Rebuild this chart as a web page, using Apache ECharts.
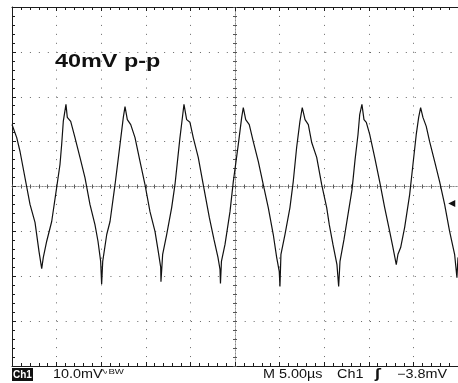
<!DOCTYPE html>
<html>
<head>
<meta charset="utf-8">
<title>Ch1 ripple 40mV p-p</title>
<script src="https://cdn.jsdelivr.net/npm/echarts@6/dist/echarts.min.js"></script>
<style>
  html, body { margin: 0; padding: 0; background: #fff; }
  #chart { width: 458px; height: 383px; }
</style>
</head>
<body>
<div id="chart"></div>
<script>
// Time relative to the trigger point (µs) at 5 µs/div
const timeUs = [
  -25.00, -24.47, -24.10, -22.98, -22.42, -21.97, -21.67, -21.49, -21.11, -20.55,
  -19.99, -19.62, -19.43, -19.25, -18.95, -18.80, -18.42, -17.94, -17.38, -16.82,
  -16.26, -15.70, -15.36, -15.06, -14.95, -14.83, -14.38, -14.01, -13.45, -12.89,
  -12.52, -12.33, -12.07, -11.69, -11.21, -10.65, -10.09, -9.53, -8.97, -8.60,
  -8.33, -8.30, -8.11, -7.66, -7.10, -6.73, -6.17, -5.86, -5.72, -5.42,
  -5.05, -4.68, -4.12, -3.56, -2.88, -2.36, -1.91, -1.68, -1.63, -1.52,
  -1.12, -0.56, -0.19, 0.37, 0.75, 0.93, 1.20, 1.60, 2.05, 2.61,
  3.17, 3.73, 4.29, 4.67, 4.96, 5.04, 5.15, 5.60, 6.16, 6.53,
  6.91, 7.28, 7.54, 7.85, 8.22, 8.60, 9.16, 9.72, 10.28, 10.57,
  10.98, 11.43, 11.62, 11.77, 12.22, 12.67, 13.12, 13.46, 13.79, 13.98,
  14.23, 14.46, 14.72, 15.10, 15.66, 16.22, 16.78, 17.34, 17.71, 18.08,
  18.27, 18.57, 19.02, 19.58, 19.95, 20.32, 20.59, 20.81, 21.07, 21.44,
  21.82, 22.38, 22.94, 23.50, 24.06, 24.62, 24.88, 25.00
];

// Ch1 voltage (mV), 10 mV/div
const ch1mV = [
  13.8, 10.9, 7.8, -4.0, -8.0, -14.5, -18.3, -15.8, -12.2, -7.8,
  -0.2, 4.9, 9.4, 14.5, 18.3, 15.4, 14.5, 10.9, 6.5, 2.0,
  -4.0, -8.5, -12.2, -16.7, -21.8, -16.7, -10.7, -7.8, 0.4, 9.4,
  15.4, 17.8, 14.9, 13.8, 10.9, 5.6, 0.4, -5.6, -10.0, -14.5,
  -18.0, -21.2, -15.1, -10.7, -4.7, 0.4, 10.9, 16.0, 18.3, 14.9,
  14.3, 10.9, 6.5, 0.4, -6.9, -11.8, -15.8, -18.5, -21.6, -16.7,
  -12.9, -5.6, 1.1, 9.4, 15.4, 17.6, 14.9, 13.8, 10.0, 5.6,
  0.4, -4.7, -10.7, -15.8, -18.9, -22.3, -15.1, -10.7, -4.7, 1.1,
  8.7, 14.5, 17.6, 14.9, 13.8, 9.8, 6.5, 0.4, -4.7, -8.5,
  -12.9, -17.4, -22.3, -16.7, -11.8, -6.2, -0.7, 6.0, 11.6, 16.0,
  18.3, 14.9, 14.3, 11.6, 6.5, 1.1, -4.7, -10.0, -13.6, -17.4,
  -15.1, -13.6, -9.1, -1.8, 4.9, 11.6, 15.4, 17.6, 15.4, 13.4,
  10.0, 5.6, 1.1, -4.0, -10.0, -15.1, -20.3, -15.8
];

// graticule: 10 x 8 divisions
const timeRange = [-25, 25, 5];
const voltRange = [-40, 40, 10];
const triggerLevelMv = -3.8;
const triggerTimeUs = 24.3;

// readouts
const titleText = '40mV p-p';
const chLabel = 'Ch1';
const scaleText = '10.0mV';
const bwText = '\u223fBW';
const timebaseText = 'M 5.00\u00b5s';
const trigSrcText = 'Ch1';
const slopeText = '\u0283';
const trigLevelText = '\u22123.8mV';

const INK = '#1c1c1c';
const DOT = '#666';
const FONT = '"Liberation Sans", Arial, sans-serif';

// one axis of the graticule; border axes get long ticks, centre axes short ones
function makeAxis(range, opts) {
  const centre = !!opts.centre;
  return {
    type: 'value',
    min: range[0],
    max: range[1],
    interval: range[2],
    position: opts.position,
    axisLine: {
      show: true,
      onZero: centre,
      onZeroAxisIndex: centre ? 0 : undefined,
      lineStyle: centre
        ? { color: '#8a8a8a', width: 1, type: [1, 2] }
        : { color: INK, width: 1 },
    },
    axisTick: { show: true, inside: opts.inside !== false, length: centre ? 2 : 4, lineStyle: { color: centre ? '#555' : INK } },
    minorTick: { show: true, splitNumber: 5, length: centre ? 2 : 3, lineStyle: { color: centre ? '#555' : INK } },
    axisLabel: { show: false },
    splitLine: opts.split
      ? { show: true, lineStyle: { color: DOT, width: 1, type: [1, 7.95] } }
      : { show: false },
  };
}

const chart = echarts.init(document.getElementById('chart'), null, { renderer: 'canvas' });

const bottomY = 375;
const readout = (x, text, size, extra) => Object.assign({
  type: 'text',
  x: x,
  y: bottomY,
  scaleX: 1.2,
  z: 10,
  style: { text: text, fill: '#111', font: size + 'px ' + FONT, verticalAlign: 'middle' },
}, extra || {});

chart.setOption({
  animation: false,
  backgroundColor: '#fff',
  grid: { left: 12, top: 7, width: 446, height: 359, containLabel: false },
  xAxis: [
    makeAxis(timeRange, { position: 'bottom', split: true }),
    makeAxis(timeRange, { position: 'top' }),
    makeAxis(timeRange, { position: 'bottom', centre: true }),
    makeAxis(timeRange, { position: 'bottom', centre: true, inside: false }),
  ],
  yAxis: [
    makeAxis(voltRange, { position: 'left', split: true }),
    makeAxis(voltRange, { position: 'left', centre: true }),
    makeAxis(voltRange, { position: 'left', centre: true, inside: false }),
  ],
  series: [{
    name: 'Ch1',
    type: 'line',
    xAxisIndex: 0,
    yAxisIndex: 0,
    data: timeUs.map((t, i) => [t, ch1mV[i]]),
    showSymbol: false,
    smooth: false,
    clip: true,
    lineStyle: { color: '#111', width: 1.2 },
    z: 5,
    markPoint: {
      silent: true,
      symbol: 'triangle',
      symbolSize: [7, 7],
      symbolRotate: 90,
      itemStyle: { color: '#111' },
      label: { show: false },
      data: [{ coord: [triggerTimeUs, triggerLevelMv] }],
    },
  }],
  graphic: [
    {
      type: 'text', x: 55, y: 62, scaleX: 1.3, z: 10,
      style: { text: titleText, fill: '#111', font: 'bold 18px ' + FONT, verticalAlign: 'middle' },
    },
    { type: 'rect', shape: { x: 12, y: 368, width: 21, height: 13 }, style: { fill: '#111' }, z: 9 },
    readout(13, chLabel, 10, {
      scaleX: 1,
      style: { text: chLabel, fill: '#fff', font: 'bold 10px ' + FONT, verticalAlign: 'middle' },
    }),
    readout(53, scaleText, 12),
    readout(100, bwText, 8, { y: 372 }),
    readout(263, timebaseText, 12),
    readout(337, trigSrcText, 12),
    readout(375, slopeText, 12, { style: { text: slopeText, fill: '#111', font: 'bold 12px "DejaVu Sans"', verticalAlign: 'middle' } }),
    readout(397, trigLevelText, 12),
  ],
});
</script>
</body>
</html>
